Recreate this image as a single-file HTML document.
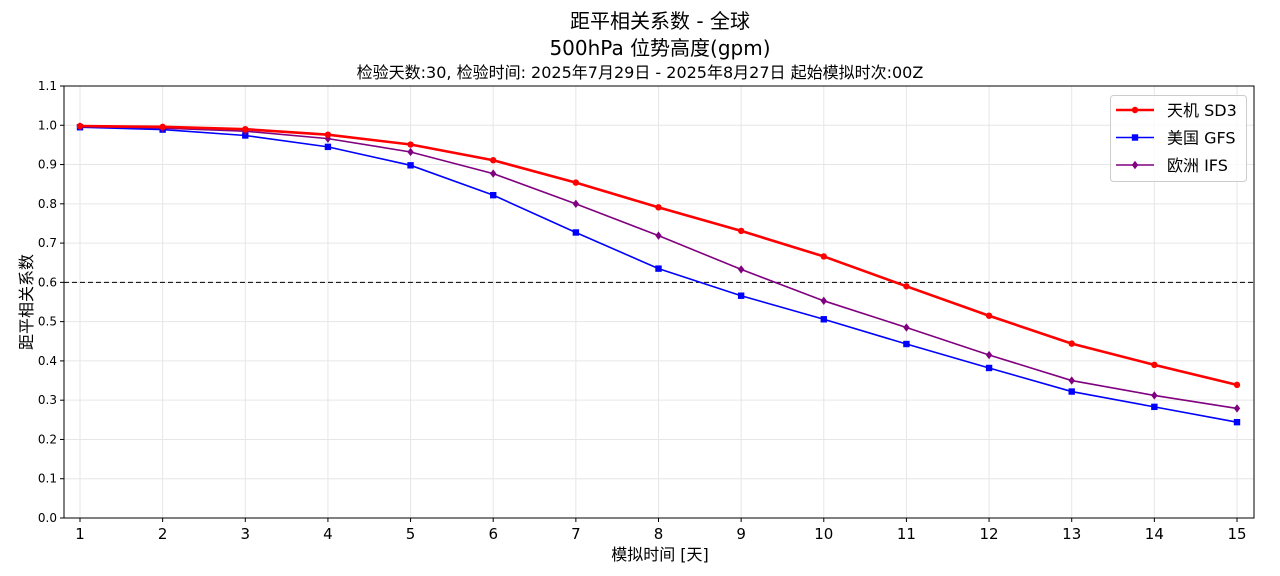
<!DOCTYPE html>
<html><head><meta charset="utf-8"><style>
body{margin:0;background:#fff;}
svg{display:block;font-family:"DejaVu Sans","Noto Sans CJK SC",sans-serif;}
</style></head><body>
<svg id="s" width="1280" height="576" xmlns="http://www.w3.org/2000/svg">
<text x="660" y="28" font-size="20" text-anchor="middle">距平相关系数 - 全球</text>
<text x="660" y="55" font-size="20" text-anchor="middle">500hPa 位势高度(gpm)</text>
<text x="640" y="78" font-size="16" text-anchor="middle">检验天数:30, 检验时间: 2025年7月29日 - 2025年8月27日 起始模拟时次:00Z</text>
<text x="660" y="560" font-size="16" text-anchor="middle">模拟时间 [天]</text>
<text transform="translate(32,302) rotate(-90)" font-size="16" text-anchor="middle">距平相关系数</text>
<g id="g"></g>
</svg>
<script>
const L=64,R=1254,T=86,B=518;
const X=d=>80+(d-1)*(1237-80)/14, Y=v=>B-v*(B-T)/1.1;
let h='';
for(let i=0;i<=11;i++){const y=Y(i/10);h+=`<line x1="${L}" x2="${R}" y1="${y}" y2="${y}" stroke="#e6e6e6"/><line x1="${L-4}" x2="${L}" y1="${y}" y2="${y}" stroke="#000"/><text x="${L-7}" y="${y+4}" font-size="12" text-anchor="end">${(i/10).toFixed(1)}</text>`;}
for(let d=1;d<=15;d++){const x=X(d);h+=`<line x1="${x}" x2="${x}" y1="${T}" y2="${B}" stroke="#e6e6e6"/><line x1="${x}" x2="${x}" y1="${B}" y2="${B+4}" stroke="#000"/><text x="${x}" y="${B+21}" font-size="15" text-anchor="middle">${d}</text>`;}
h+=`<line x1="${L}" x2="${R}" y1="${Y(0.6)}" y2="${Y(0.6)}" stroke="#000" stroke-dasharray="5,3" stroke-width="1.1"/>`;
const S=[
["#ff0000",2.6,"c",[0.998,0.996,0.99,0.976,0.951,0.911,0.854,0.791,0.731,0.666,0.590,0.515,0.444,0.390,0.339]],
["#0000ff",1.6,"s",[0.995,0.989,0.974,0.945,0.898,0.822,0.727,0.635,0.566,0.506,0.443,0.382,0.322,0.283,0.244]],
["#800080",1.6,"d",[0.997,0.993,0.985,0.966,0.932,0.877,0.800,0.719,0.633,0.553,0.485,0.415,0.350,0.312,0.279]]];
function mk(t,x,y,c){if(t=="c")return `<circle cx="${x}" cy="${y}" r="3.2" fill="${c}"/>`;if(t=="s")return `<rect x="${x-3.2}" y="${y-3.2}" width="6.4" height="6.4" fill="${c}"/>`;return `<polygon points="${x},${y-4.2} ${x+3.2},${y} ${x},${y+4.2} ${x-3.2},${y}" fill="${c}"/>`;}
for(const s of [S[1],S[2],S[0]]){h+=`<polyline fill="none" stroke="${s[0]}" stroke-width="${s[1]}" points="${s[3].map((v,i)=>X(i+1)+','+Y(v)).join(' ')}"/>`;s[3].forEach((v,i)=>h+=mk(s[2],X(i+1),Y(v),s[0]));}
h+=`<rect x="${L}" y="${T}" width="${R-L}" height="${B-T}" fill="none" stroke="#000" stroke-width="1"/>`;
h+=`<rect x="1110.5" y="95.5" width="136" height="86" rx="3" fill="#fff" fill-opacity="0.8" stroke="#ccc"/>`;
const names=["天机 SD3","美国 GFS","欧洲 IFS"];
S.forEach((s,i)=>{const y=110+i*27.5;h+=`<line x1="1116" x2="1154" y1="${y}" y2="${y}" stroke="${s[0]}" stroke-width="${s[1]}"/>`+mk(s[2],1135,y,s[0])+`<text x="1167" y="${y+6}" font-size="16">${names[i]}</text>`;});
document.getElementById('g').innerHTML=h;
</script>
</body></html>
